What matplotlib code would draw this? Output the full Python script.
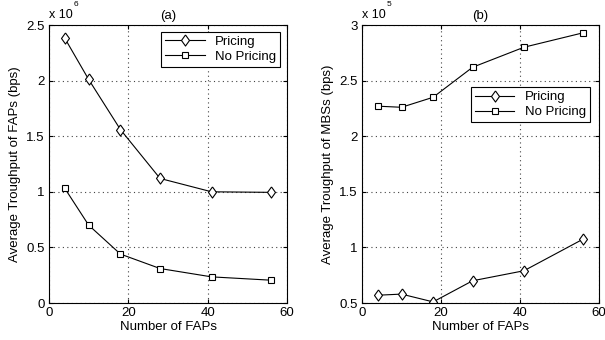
import numpy as np
import matplotlib
matplotlib.use('Agg')
import matplotlib.pyplot as plt

# data
n_faps = [4, 10, 18, 28, 41, 56]

fap_pricing = [2.38, 2.01, 1.56, 1.12, 1.00, 0.995]       # x 1e6
fap_nopricing = [1.03, 0.70, 0.44, 0.31, 0.235, 0.205]    # x 1e6

mbs_pricing = [0.57, 0.58, 0.51, 0.70, 0.79, 1.075]       # x 1e5
mbs_nopricing = [2.27, 2.26, 2.35, 2.62, 2.80, 2.93]      # x 1e5

plt.rcParams['font.family'] = ['Liberation Sans', 'DejaVu Sans']
plt.rcParams['font.size'] = 9.5

# matlab style diamond, a bit taller than wide
diamond = [(0, 1), (0.72, 0), (0, -1), (-0.72, 0), (0, 1)]

fig = plt.figure(figsize=(6.05, 3.4), dpi=100)
ax1 = fig.add_axes([49/605., 1 - 303/340., 238/605., 278/340.])
ax2 = fig.add_axes([362/605., 1 - 303/340., 237/605., 278/340.])


def style(ax, ylim, yticks, ylabel, title, expo):
	ax.set_xlim(0, 60)
	ax.set_xticks([0, 20, 40, 60])
	ax.set_ylim(*ylim)
	ax.set_yticks(yticks)
	ax.set_yticklabels(['%g' % t for t in yticks])
	ax.tick_params(direction='in', length=3, top=True, right=True, pad=3)
	ax.grid(True, linestyle=(0, (1, 3)), color='#444444', linewidth=0.8)
	ax.set_xlabel('Number of FAPs', labelpad=1)
	ax.set_ylabel(ylabel, labelpad=4)
	ax.set_title(title, fontsize=9.5, pad=4)
	ax.text(0.0, 1.015, 'x 10', transform=ax.transAxes, fontsize=9, va='bottom', ha='left')
	ax.text(0.105, 1.06, expo, transform=ax.transAxes, fontsize=6, va='bottom', ha='left')
	for s in ax.spines.values():
		s.set_linewidth(0.8)


ax1.plot(n_faps, fap_pricing, '-', color='k', lw=0.8, marker=diamond, ms=8, mfc='white', mew=0.8, label='Pricing')
ax1.plot(n_faps, fap_nopricing, '-', color='k', lw=0.8, marker='s', ms=5, mfc='white', mew=0.8, label='No Pricing')
style(ax1, (0, 2.5), [0, 0.5, 1, 1.5, 2, 2.5], 'Average Troughput of FAPs (bps)', '(a)', '6')
ax1.legend(loc='upper right', fancybox=False, edgecolor='k', framealpha=1, borderpad=0.3,
	handlelength=3, labelspacing=0.2, borderaxespad=0.5, fontsize=9.5).get_frame().set_linewidth(0.8)

ax2.plot(n_faps, mbs_pricing, '-', color='k', lw=0.8, marker=diamond, ms=8, mfc='white', mew=0.8, label='Pricing')
ax2.plot(n_faps, mbs_nopricing, '-', color='k', lw=0.8, marker='s', ms=5, mfc='white', mew=0.8, label='No Pricing')
style(ax2, (0.5, 3), [0.5, 1, 1.5, 2, 2.5, 3], 'Average Troughput of MBSs (bps)', '(b)', '5')
ax2.legend(loc='upper right', bbox_to_anchor=(0.99, 0.8), fancybox=False, edgecolor='k', framealpha=1,
	borderpad=0.3, handlelength=3, labelspacing=0.2, fontsize=9.5).get_frame().set_linewidth(0.8)

fig.savefig('out.png', dpi=100)
